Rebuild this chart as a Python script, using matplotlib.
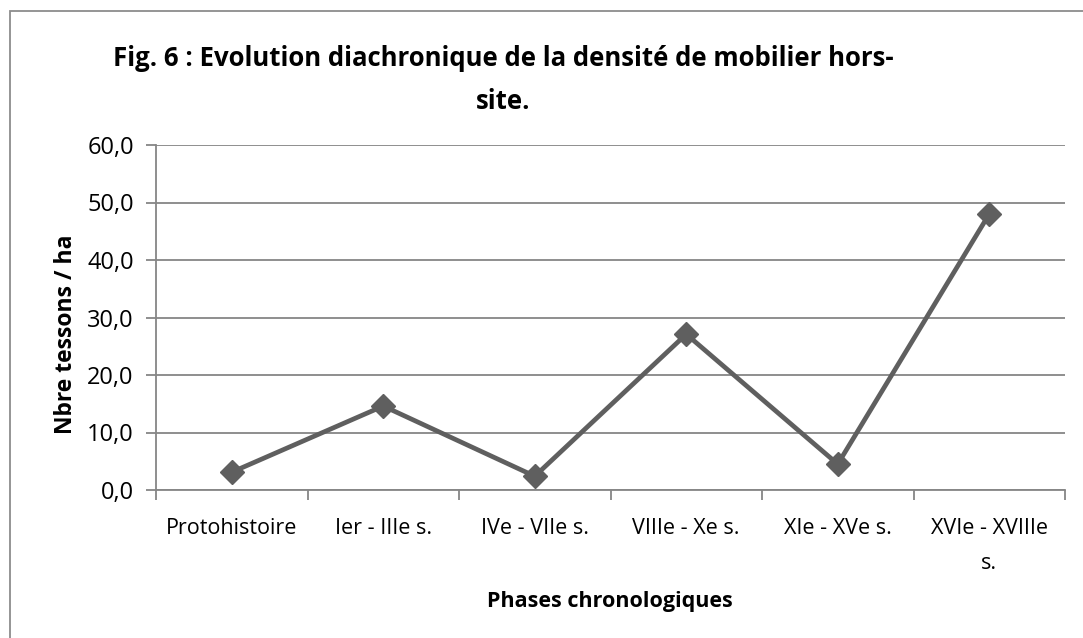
import matplotlib
matplotlib.use("Agg")
import matplotlib.pyplot as plt
from matplotlib.patches import Rectangle
import numpy as np

categories = ["Protohistoire", "Ier - IIIe s.", "IVe - VIIe s.", "VIIIe - Xe s.",
              "XIe - XVe s.", "XVIe - XVIIIe\ns."]
values = [3.1, 14.6, 2.4, 27.1, 4.5, 48.0]
yticks = [0, 10, 20, 30, 40, 50, 60]
ytick_labels = ["0,0", "10,0", "20,0", "30,0", "40,0", "50,0", "60,0"]

plt.rcParams['font.family'] = ['Open Sans', 'DejaVu Sans']

W, H = 1083, 638
fig = plt.figure(figsize=(W / 100, H / 100), dpi=100)

# outer chart frame
fig.patches.append(Rectangle((10 / W, -0.1), 1.2, (H - 11) / H + 0.1,
                             transform=fig.transFigure, fill=False,
                             edgecolor="#8c8c8c", linewidth=1.3))

ax = fig.add_axes([156 / W, (H - 490) / H, (1065 - 156) / W, (490 - 145) / H])
n = len(categories)
x = np.arange(n) + 0.5
ax.plot(x, values, color="#5f5f5f", linewidth=3.4, marker="D", markersize=12.5,
        markerfacecolor="#5f5f5f", markeredgecolor="#5f5f5f", zorder=3)

ax.set_xlim(0, n)
ax.set_ylim(0, 60)
ax.set_yticks(yticks)
ax.set_yticklabels(ytick_labels, fontsize=17)
ax.set_xticks(np.arange(n + 1))
ax.set_xticklabels([])
ax.set_xticks(x, minor=True)
ax.set_xticklabels(categories, minor=True, fontsize=15.5, linespacing=1.9)
ax.tick_params(axis="x", which="minor", length=0, pad=20)
ax.tick_params(axis="x", which="major", length=7, color="#868686", width=1.3)
ax.tick_params(axis="y", length=7, color="#868686", width=1.3, pad=9)

ax.grid(axis="y", color="#868686", linewidth=1.3)
ax.set_axisbelow(True)
for s in ["top", "right"]:
    ax.spines[s].set_visible(False)
for s in ["left", "bottom"]:
    ax.spines[s].set_color("#868686")
    ax.spines[s].set_linewidth(1.3)

fig.text(66 / W, 1 - 334 / H, "Nbre tessons / ha", rotation=90, fontsize=16.5,
         fontweight="bold", ha="center", va="center")
fig.text(610 / W, 1 - 601 / H, "Phases chronologiques", fontsize=15.5,
         fontweight="bold", ha="center", va="center")
fig.text(503 / W, 1 - 80 / H, "Fig. 6 : Evolution diachronique de la densité de mobilier hors-\nsite.",
         fontsize=18.5, fontweight="bold", ha="center", va="center", linespacing=1.75)

fig.savefig("out.png", dpi=100)
